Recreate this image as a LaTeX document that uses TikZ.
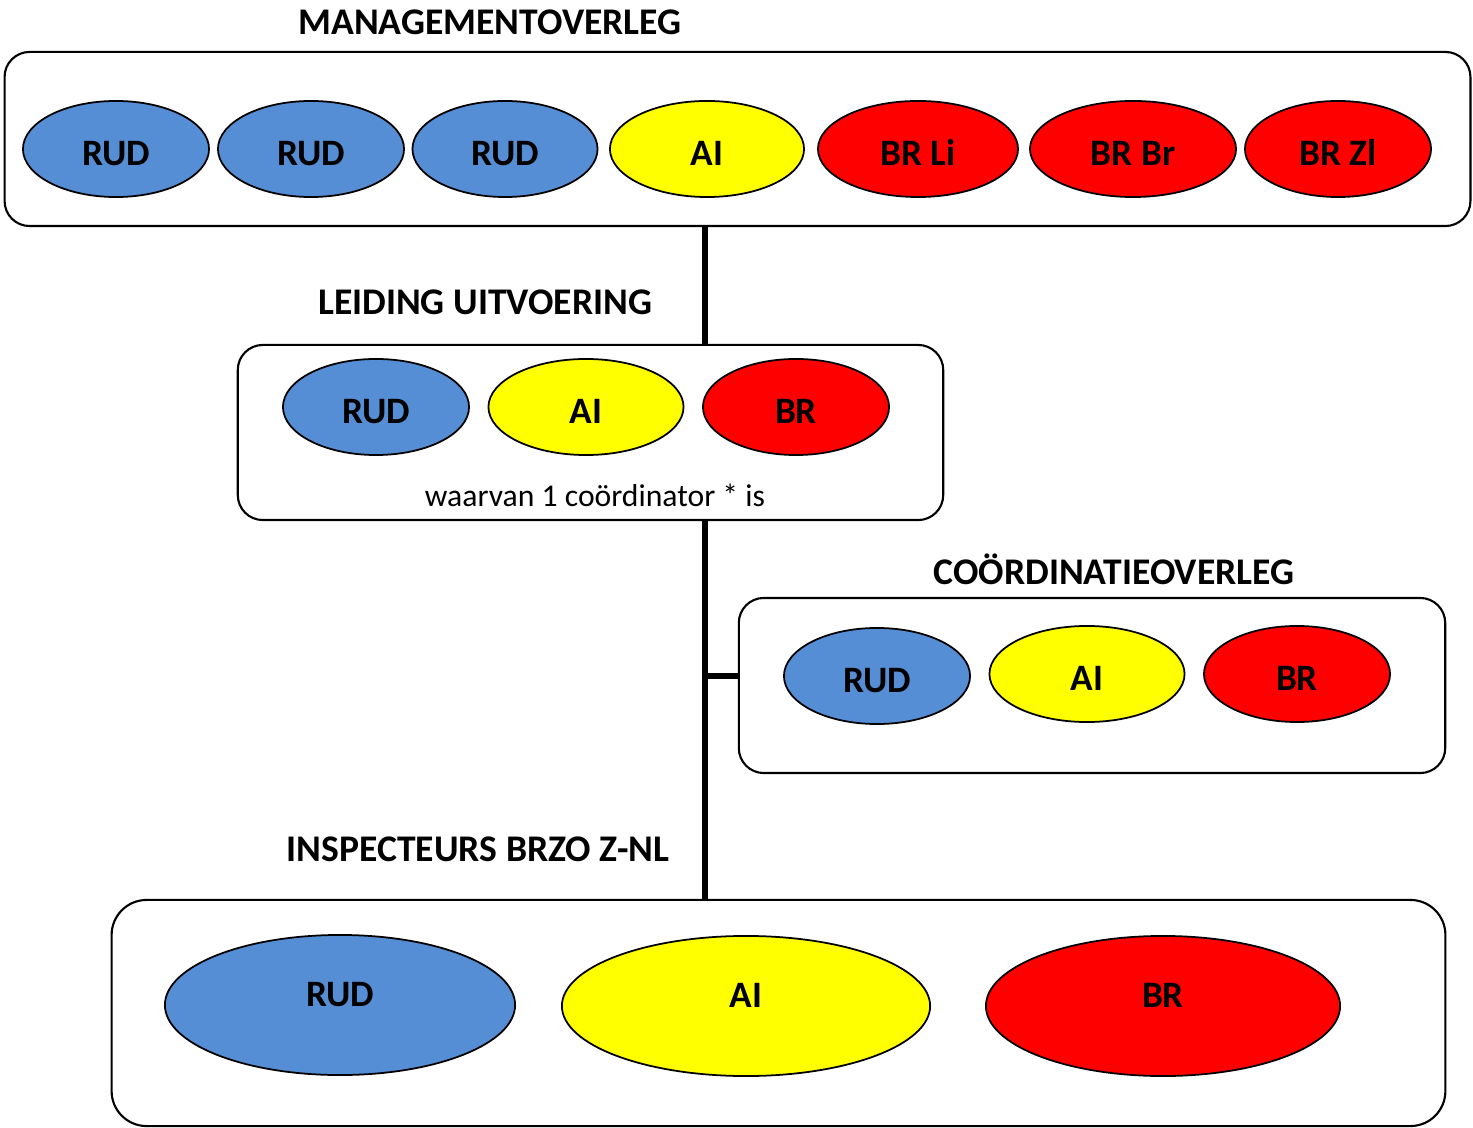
\documentclass[tikz,border=0pt]{standalone}
\usepackage{fontspec}
\setmainfont{Carlito}
\usetikzlibrary{shapes.geometric}
\definecolor{rudblue}{RGB}{85,142,213}
\definecolor{aiyellow}{RGB}{255,255,0}
\definecolor{brred}{RGB}{255,0,0}
\tikzset{
  groupbox/.style={draw, line width=0.6pt, rounded corners=0.25cm, inner sep=0pt},
  member/.style={ellipse, draw, line width=0.5pt, inner sep=0pt, minimum width=1.86cm, minimum height=0.96cm, text height=9.5pt, font=\bfseries\fontsize{10.6}{12}\selectfont},
  bigmember/.style={member, minimum width=3.5cm, minimum height=1.4cm, text depth=8.6pt},
  rud/.style={member, fill=rudblue},
  ai/.style={member, fill=aiyellow},
  br/.style={member, fill=brred},
  heading/.style={font=\bfseries\fontsize{10.7}{13}\selectfont},
  spineline/.style={line width=1.7pt}
}
\begin{document}
\begin{tikzpicture}[x=0.01cm, y=-0.01cm]
\useasboundingbox (0,0) rectangle (1473,1128);
\coordinate (spine) at (705,0); % spine
\coordinate (tap) at (705,676); % branch coordinatieoverleg

\node[groupbox, minimum width=14.65cm, minimum height=1.74cm] (mgmt) at (737.5,139) {}; % managementoverleg
\node[heading] (mgmtT) at (490,22) {MANAGEMENTOVERLEG};
\node[rud] (mgmtRud1) at (116,149) {RUD};
\node[rud] (mgmtRud2) at (311,149) {RUD};
\node[rud, minimum width=1.85cm] (mgmtRud3) at (505,149) {RUD};
\node[ai, minimum width=1.94cm] (mgmtAi) at (707,149) {AI};
\node[br, minimum width=2cm] (mgmtBrLi) at (918,149) {BR Li};
\node[br, minimum width=2.06cm] (mgmtBrBr) at (1133,149) {BR Br};
\node[br] (mgmtBrZl) at (1338,149) {BR Zl};

\node[groupbox, minimum width=7.05cm, minimum height=1.75cm] (lead) at (590.5,432.5) {}; % leiding uitvoering
\node[heading] (leadT) at (485,302) {LEIDING UITVOERING};
\node[rud] (leadRud) at (376,407) {RUD};
\node[ai, minimum width=1.95cm] (leadAi) at (586,407) {AI};
\node[br] (leadBr) at (796,407) {BR};
\node[font=\fontsize{9}{11}\selectfont] (leadNote) at (595,495) {waarvan 1 coördinator * is};

\node[groupbox, minimum width=7.06cm, minimum height=1.75cm] (coord) at (1092,685.5) {}; % coordinatieoverleg
\node[heading] (coordT) at (1114,569) {COÖRDINATIEOVERLEG};
\node[rud] (coordRud) at (877,676) {RUD};
\node[ai, minimum width=1.95cm] (coordAi) at (1087,674) {AI};
\node[br] (coordBr) at (1297,674) {BR};

\node[groupbox, rounded corners=0.35cm, minimum width=13.33cm, minimum height=2.26cm] (insp) at (778.5,1013) {}; % inspecteurs
\node[heading] (inspT) at (478,849) {INSPECTEURS BRZO Z-NL};
\node[rud, bigmember] (inspRud) at (340,1005) {RUD};
\node[ai, bigmember, minimum width=3.68cm] (inspAi) at (746,1006) {AI};
\node[br, bigmember, minimum width=3.54cm] (inspBr) at (1163,1006) {BR};

\draw[spineline] (mgmt.south -| spine) -- (lead.north -| spine); % management - leiding
\draw[spineline] (lead.south -| spine) -- (insp.north -| spine); % leiding - inspecteurs
\draw[spineline] (tap) -- (tap -| coord.west); % branch

\end{tikzpicture}
\end{document}
